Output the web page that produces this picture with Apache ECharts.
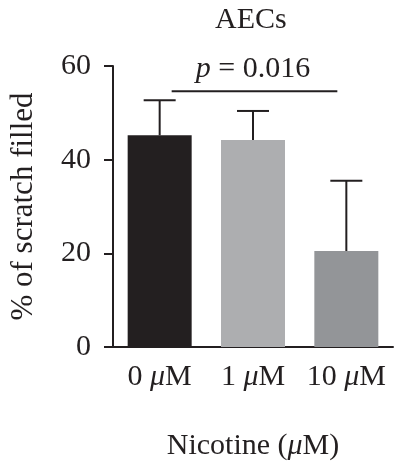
<!DOCTYPE html>
<html>
<head>
<meta charset="utf-8">
<script src="https://cdn.jsdelivr.net/npm/echarts@6/dist/echarts.min.js"></script>
<style>
  html, body { margin: 0; padding: 0; background: #fff; }
  #chart { width: 396px; height: 466px; }
</style>
</head>
<body>
<div id="chart"></div>
<script>
"use strict";

// data
const categories = ["0 μM", "1 μM", "10 μM"];
const means = [45.2, 44.2, 20.5];
const errTops = [52.7, 50.4, 35.5];
const barColors = ["#231f20", "#adaeb0", "#939598"];
const yTicks = [0, 20, 40, 60];
const pBracket = [0, 2, 54.6];   // from cat, to cat, level
const pLabel = "{i|p} = 0.016";

const INK = "#231f20";
const FONT = "Liberation Serif";
const FS = 30;

const chart = echarts.init(document.getElementById("chart"));

function italicMu(s){
    return s.replace("μ", "{i|μ}");
}

const rich = { i: { fontStyle: "italic", fontFamily: FONT, fontSize: FS, color: INK } };

chart.setOption({
    animation: false,
    title: {
        text: "AECs",
        left: 210, top: 0,
        textStyle: { fontFamily: FONT, fontSize: FS, fontWeight: "normal", color: INK }
    },
    grid: { left: 110, right: 3, top: 66, bottom: 117 },
    xAxis: {
        type: "category",
        data: categories,
        name: "Nicotine ({i|μ}M)",
        nameLocation: "middle",
        nameGap: 84,
        nameTextStyle: { fontFamily: FONT, fontSize: FS, color: INK, rich: rich },
        axisLine: { lineStyle: { color: INK, width: 2 } },
        axisTick: { alignWithLabel: true, length: 8, lineStyle: { color: INK, width: 2 } },
        axisLabel: {
            interval: 0,
            margin: 15,
            fontFamily: FONT, fontSize: FS, color: INK,
            formatter: italicMu,
            rich: rich
        }
    },
    yAxis: {
        type: "value",
        min: yTicks[0], max: yTicks[yTicks.length - 1], interval: 20,
        name: "% of scratch filled",
        nameLocation: "middle",
        nameGap: 74,
        nameTextStyle: { fontFamily: FONT, fontSize: 31, color: INK },
        axisLine: { show: true, lineStyle: { color: INK, width: 2 } },
        axisTick: { show: true, length: 9, lineStyle: { color: INK, width: 2 } },
        splitLine: { show: false },
        axisLabel: { margin: 22, fontFamily: FONT, fontSize: FS, color: INK }
    },
    series: [
        {
            type: "bar",
            barWidth: 64,
            data: means.map((v, i) => ({ value: v, itemStyle: { color: barColors[i] } })),
            z: 2
        },
        {
            // upward-only error bars
            type: "custom",
            data: means.map((m, i) => [i, m, errTops[i]]),
            z: 3,
            renderItem: function(params, api){
                const base = api.coord([api.value(0), api.value(1)]);
                const top = api.coord([api.value(0), api.value(2)]);
                const half = 16;
                const style = { stroke: INK, lineWidth: 2 };
                return {
                    type: "group",
                    children: [
                        { type: "line", shape: { x1: base[0], y1: base[1], x2: top[0], y2: top[1] }, style },
                        { type: "line", shape: { x1: top[0] - half, y1: top[1], x2: top[0] + half, y2: top[1] }, style }
                    ]
                };
            }
        },
        {
            // significance bracket
            type: "custom",
            data: [pBracket],
            z: 3,
            renderItem: function(params, api){
                const a = api.coord([api.value(0), api.value(2)]);
                const b = api.coord([api.value(1), api.value(2)]);
                const mid = (a[0] + b[0]) / 2;
                return {
                    type: "group",
                    children: [
                        { type: "line", shape: { x1: a[0] + 12, y1: a[1], x2: b[0] - 9, y2: b[1] },
                          style: { stroke: INK, lineWidth: 2 } },
                        { type: "text", x: mid, y: a[1] - 7,
                          style: {
                              text: pLabel, align: "center", verticalAlign: "bottom",
                              fontFamily: FONT, fontSize: FS, fill: INK,
                              rich: rich
                          } }
                    ]
                };
            }
        }
    ]
});
</script>
</body>
</html>
